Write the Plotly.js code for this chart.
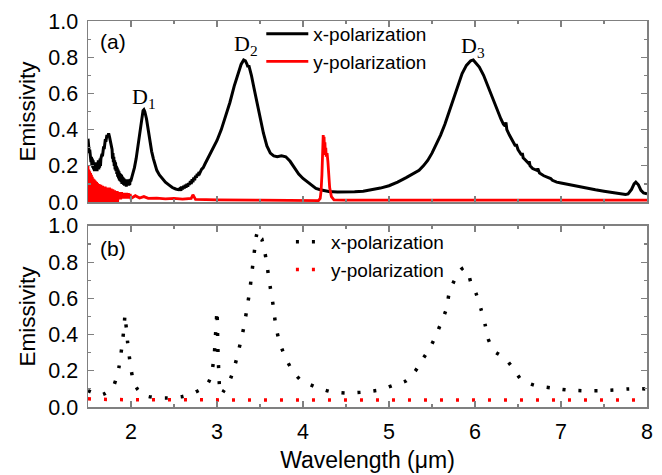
<!DOCTYPE html>
<html><head><meta charset="utf-8">
<script src="https://cdn.plot.ly/plotly-3.0.1.min.js"></script>
<style>body{margin:0;background:#fff}</style>
</head><body><div id="chart" style="width:662px;height:475px"></div>
<script>
// ---- Panel (a): measured emissivity ----
const aXWl = [1.50,1.505,1.51,1.515,1.52,1.525,1.53,1.535,1.54,1.545,1.55,1.555,1.56,1.565,1.57,1.575,1.58,1.585,1.59,1.595,1.60,1.605,1.61,1.615,1.62,1.625,1.63,1.635,1.64,1.645,1.65,1.66,1.67,1.68,1.69,1.70,1.71,1.72,1.73,1.74,1.75,1.76,1.77,1.78,1.785,1.79,1.795,1.80,1.805,1.81,1.815,1.82,1.825,1.83,1.835,1.84,1.845,1.85,1.855,1.86,1.865,1.87,1.875,1.88,1.885,1.89,1.895,1.90,1.905,1.91,1.915,1.92,1.925,1.93,1.935,1.94,1.945,1.95,1.955,1.96,1.965,1.97,1.975,1.98,1.985,1.99,2.00,2.02,2.04,2.06,2.08,2.10,2.12,2.14,2.15,2.16,2.18,2.20,2.22,2.24,2.26,2.28,2.30,2.33,2.36,2.40,2.44,2.48,2.52,2.55,2.57,2.58,2.59,2.60,2.61,2.62,2.63,2.64,2.65,2.66,2.67,2.68,2.69,2.70,2.71,2.72,2.73,2.74,2.75,2.76,2.77,2.78,2.79,2.80,2.82,2.84,2.86,2.90,2.95,3.00,3.05,3.10,3.15,3.20,3.25,3.28,3.31,3.33,3.35,3.36,3.37,3.38,3.40,3.43,3.46,3.50,3.54,3.58,3.62,3.66,3.70,3.75,3.80,3.85,3.90,3.95,4.00,4.05,4.10,4.15,4.20,4.25,4.30,4.40,4.50,4.60,4.70,4.80,4.90,5.00,5.10,5.20,5.30,5.35,5.40,5.45,5.50,5.55,5.60,5.65,5.70,5.75,5.80,5.85,5.90,5.95,5.98,6.00,6.05,6.10,6.15,6.20,6.25,6.30,6.33,6.35,6.36,6.37,6.40,6.43,6.45,6.47,6.48,6.50,6.52,6.54,6.55,6.56,6.58,6.60,6.62,6.63,6.64,6.67,6.70,6.72,6.73,6.75,6.80,6.85,6.88,6.90,6.95,7.00,7.10,7.20,7.30,7.40,7.50,7.60,7.70,7.75,7.78,7.82,7.85,7.87,7.90,7.93,7.96,8.00];
const aXEm = [0.35,0.30,0.32,0.27,0.29,0.24,0.27,0.22,0.25,0.20,0.24,0.19,0.23,0.18,0.22,0.17,0.22,0.17,0.21,0.17,0.22,0.17,0.22,0.18,0.23,0.18,0.23,0.19,0.24,0.20,0.24,0.26,0.26,0.30,0.30,0.34,0.34,0.37,0.36,0.38,0.36,0.34,0.31,0.29,0.24,0.27,0.22,0.25,0.20,0.23,0.18,0.22,0.17,0.20,0.155,0.19,0.14,0.18,0.13,0.17,0.12,0.16,0.115,0.155,0.11,0.15,0.10,0.14,0.10,0.135,0.095,0.13,0.09,0.125,0.09,0.125,0.085,0.12,0.09,0.12,0.09,0.125,0.09,0.125,0.095,0.12,0.12,0.15,0.19,0.24,0.31,0.39,0.46,0.505,0.51,0.50,0.46,0.40,0.33,0.28,0.24,0.20,0.175,0.15,0.13,0.11,0.095,0.08,0.072,0.068,0.075,0.062,0.085,0.07,0.09,0.075,0.095,0.08,0.10,0.085,0.105,0.095,0.115,0.10,0.125,0.11,0.135,0.12,0.145,0.135,0.155,0.145,0.165,0.16,0.18,0.19,0.21,0.245,0.29,0.34,0.40,0.47,0.55,0.64,0.72,0.76,0.785,0.78,0.76,0.745,0.755,0.73,0.70,0.63,0.56,0.47,0.38,0.31,0.27,0.255,0.25,0.255,0.25,0.225,0.19,0.155,0.13,0.11,0.09,0.075,0.068,0.062,0.058,0.055,0.055,0.057,0.06,0.067,0.077,0.09,0.11,0.135,0.16,0.175,0.20,0.23,0.27,0.32,0.37,0.43,0.50,0.57,0.64,0.71,0.755,0.78,0.785,0.775,0.745,0.70,0.64,0.58,0.51,0.46,0.43,0.42,0.44,0.40,0.37,0.345,0.33,0.31,0.32,0.29,0.275,0.26,0.27,0.245,0.235,0.225,0.215,0.225,0.20,0.185,0.18,0.175,0.185,0.16,0.145,0.135,0.13,0.12,0.11,0.105,0.095,0.085,0.075,0.068,0.06,0.052,0.045,0.042,0.045,0.07,0.10,0.11,0.095,0.065,0.05,0.045];

const aYWl = [1.500,1.505,1.510,1.515,1.520,1.525,1.530,1.535,1.540,1.545,1.550,1.555,1.560,1.565,1.570,1.575,1.580,1.585,1.590,1.595,1.600,1.605,1.610,1.615,1.620,1.625,1.630,1.635,1.640,1.645,1.650,1.655,1.660,1.665,1.670,1.675,1.680,1.685,1.690,1.695,1.700,1.705,1.710,1.715,1.720,1.725,1.730,1.735,1.740,1.745,1.750,1.755,1.760,1.765,1.770,1.775,1.780,1.785,1.790,1.795,1.800,1.805,1.810,1.815,1.820,1.825,1.830,1.835,1.840,1.845,1.850,1.86,1.87,1.88,1.89,1.90,1.91,1.92,1.93,1.94,1.95,1.96,1.97,1.98,1.99,2.00,2.05,2.10,2.15,2.20,2.30,2.40,2.50,2.60,2.70,2.72,2.75,2.90,3.00,3.50,4.00,4.18,4.20,4.21,4.22,4.23,4.235,4.24,4.245,4.25,4.255,4.26,4.265,4.27,4.28,4.29,4.30,4.31,4.33,4.36,4.50,5.00,6.00,7.00,8.00];
const aYEm = [0.20,0.00,0.18,0.01,0.17,0.00,0.16,0.01,0.15,0.00,0.14,0.01,0.13,0.00,0.125,0.01,0.12,0.00,0.115,0.01,0.11,0.00,0.105,0.01,0.10,0.00,0.10,0.01,0.095,0.00,0.095,0.01,0.09,0.00,0.09,0.01,0.085,0.00,0.085,0.01,0.085,0.00,0.08,0.01,0.08,0.00,0.08,0.01,0.08,0.00,0.08,0.01,0.075,0.00,0.075,0.01,0.07,0.00,0.07,0.01,0.065,0.00,0.065,0.01,0.06,0.00,0.06,0.01,0.06,0.00,0.055,0.015,0.055,0.015,0.055,0.02,0.05,0.02,0.05,0.02,0.05,0.02,0.048,0.02,0.045,0.02,0.035,0.022,0.03,0.02,0.022,0.018,0.02,0.016,0.02,0.04,0.015,0.015,0.012,0.01,0.008,0.008,0.02,0.06,0.15,0.30,0.37,0.33,0.36,0.28,0.33,0.26,0.30,0.25,0.27,0.22,0.15,0.08,0.03,0.012,0.01,0.01,0.01,0.01,0.01];

// ---- Panel (b): simulated emissivity ----
const bXWl = [1.50,1.55,1.60,1.65,1.70,1.75,1.80,1.83,1.86,1.88,1.90,1.92,1.93,1.94,1.95,1.96,1.98,2.00,2.02,2.05,2.08,2.12,2.20,2.30,2.40,2.50,2.60,2.70,2.80,2.86,2.90,2.93,2.95,2.97,2.98,2.99,3.00,3.005,3.01,3.02,3.03,3.05,3.08,3.12,3.16,3.20,3.24,3.28,3.32,3.35,3.38,3.40,3.42,3.44,3.46,3.48,3.50,3.52,3.55,3.58,3.60,3.63,3.66,3.68,3.72,3.78,3.86,3.97,4.15,4.32,4.50,4.70,4.90,5.05,5.20,5.30,5.40,5.48,5.55,5.61,5.67,5.70,5.76,5.82,5.87,5.92,5.95,6.01,6.07,6.12,6.15,6.22,6.30,6.35,6.44,6.54,6.69,6.89,7.06,7.24,7.43,7.61,7.79,8.00];
const bXEm = [0.09,0.08,0.07,0.066,0.075,0.09,0.12,0.16,0.22,0.28,0.36,0.44,0.51,0.46,0.42,0.36,0.28,0.21,0.16,0.12,0.095,0.075,0.058,0.052,0.05,0.052,0.058,0.072,0.095,0.115,0.135,0.17,0.22,0.30,0.38,0.45,0.535,0.45,0.33,0.20,0.11,0.07,0.09,0.12,0.16,0.215,0.29,0.37,0.46,0.55,0.64,0.72,0.80,0.88,0.95,0.975,0.965,0.93,0.87,0.79,0.72,0.63,0.54,0.46,0.37,0.29,0.215,0.15,0.11,0.085,0.077,0.082,0.095,0.12,0.145,0.195,0.27,0.33,0.40,0.47,0.545,0.63,0.70,0.75,0.77,0.74,0.69,0.63,0.54,0.45,0.38,0.31,0.285,0.27,0.215,0.15,0.12,0.105,0.095,0.09,0.09,0.094,0.10,0.10];
const bYWl = [1.50,1.60,2.00,3.00,4.00,5.00,6.00,7.00,8.00];
const bYEm = [0.045,0.043,0.040,0.038,0.038,0.038,0.038,0.038,0.038];

const seriesNames = ['x-polarization','y-polarization'];
const yTickVals = [0,0.2,0.4,0.6,0.8,1.0];
const yTickText = ['0.0','0.2','0.4','0.6','0.8','1.0'];
const xTickVals = [2,3,4,5,6,7,8];

const FONT = 'Liberation Sans, Arial, sans-serif';
const SERIF = 'Liberation Serif, Times New Roman, serif';
const FRAME = '#808080';

const traces = [
  {x:aXWl, y:aXEm, xaxis:'x2', yaxis:'y2', mode:'lines', name:seriesNames[0],
   line:{color:'#000000', width:3}, legend:'legend'},
  {x:aYWl, y:aYEm, xaxis:'x2', yaxis:'y2', mode:'lines', name:seriesNames[1],
   line:{color:'#ff0000', width:2.8}, legend:'legend'},
  {x:bXWl, y:bXEm, xaxis:'x', yaxis:'y', mode:'lines', name:seriesNames[0],
   line:{color:'#000000', width:3.5, dash:'3px,13px', shape:'spline', smoothing:0.6}, legend:'legend2'},
  {x:bYWl, y:bYEm, xaxis:'x', yaxis:'y', mode:'lines', name:seriesNames[1],
   line:{color:'#ff0000', width:3.5, dash:'3px,13px'}, legend:'legend2'}
];

const xCommon = {
  range:[1.5,8], tickvals:xTickVals, ticks:'inside', ticklen:6, tickwidth:1.2, tickcolor:FRAME,
  showline:true, linecolor:FRAME, linewidth:1.5, mirror:'ticks', showgrid:false, zeroline:false,
  minor:{dtick:0.5, tick0:0, ticks:'inside', ticklen:3, tickcolor:FRAME, tickwidth:1.2, showgrid:false},
  tickfont:{family:FONT, size:21.5, color:'#000'}
};
const yCommon = {
  range:[0,1.0], tickvals:yTickVals, ticktext:yTickText, ticks:'inside', ticklen:6, tickwidth:1.2, tickcolor:FRAME,
  showline:true, linecolor:FRAME, linewidth:1.5, mirror:'ticks', showgrid:false, zeroline:false,
  minor:{dtick:0.1, tick0:0, ticks:'inside', ticklen:3, tickcolor:FRAME, tickwidth:1.2, showgrid:false},
  tickfont:{family:FONT, size:21.5, color:'#000'}, ticklabelstandoff:4,
  title:{text:'Emissivity', font:{family:FONT, size:22.5, color:'#000'}, standoff:6}
};

const layout = {
  width:662, height:475,
  margin:{l:88, r:15, t:21, b:68},
  paper_bgcolor:'#fff', plot_bgcolor:'#fff',
  showlegend:true,
  xaxis:Object.assign({}, xCommon, {anchor:'y', domain:[0,1], ticklabelstandoff:5,
    title:{text:'Wavelength (μm)', font:{family:FONT, size:23, color:'#000'}, standoff:8}}),
  xaxis2:Object.assign({}, xCommon, {anchor:'y2', domain:[0,1], matches:'x', showticklabels:false}),
  yaxis:Object.assign({}, yCommon, {domain:[0,0.469], anchor:'x'}),
  yaxis2:Object.assign({}, yCommon, {domain:[0.531,1], anchor:'x2'}),
  legend:{x:0.31, y:1.016, xanchor:'left', yanchor:'top', bgcolor:'rgba(0,0,0,0)',
    font:{family:FONT, size:19, color:'#000'}, tracegroupgap:0, itemwidth:42},
  legend2:{x:0.363, y:0.477, xanchor:'left', yanchor:'top', bgcolor:'rgba(0,0,0,0)',
    font:{family:FONT, size:19, color:'#000'}, tracegroupgap:0, itemwidth:30},
  annotations:[
    {xref:'x2', yref:'y2', x:1.79, y:0.885, text:'(a)', showarrow:false, font:{family:FONT, size:21, color:'#000'}},
    {xref:'x', yref:'y', x:1.79, y:0.875, text:'(b)', showarrow:false, font:{family:FONT, size:21, color:'#000'}},
    {xref:'x2', yref:'y2', x:2.15, y:0.575, text:'D<sub>1</sub>', showarrow:false, font:{family:SERIF, size:22, color:'#000'}},
    {xref:'x2', yref:'y2', x:3.34, y:0.865, text:'D<sub>2</sub>', showarrow:false, font:{family:SERIF, size:22, color:'#000'}},
    {xref:'x2', yref:'y2', x:5.98, y:0.855, text:'D<sub>3</sub>', showarrow:false, font:{family:SERIF, size:22, color:'#000'}}
  ]
};

Plotly.newPlot('chart', traces, layout, {displayModeBar:false, staticPlot:true});
</script>
</body></html>
